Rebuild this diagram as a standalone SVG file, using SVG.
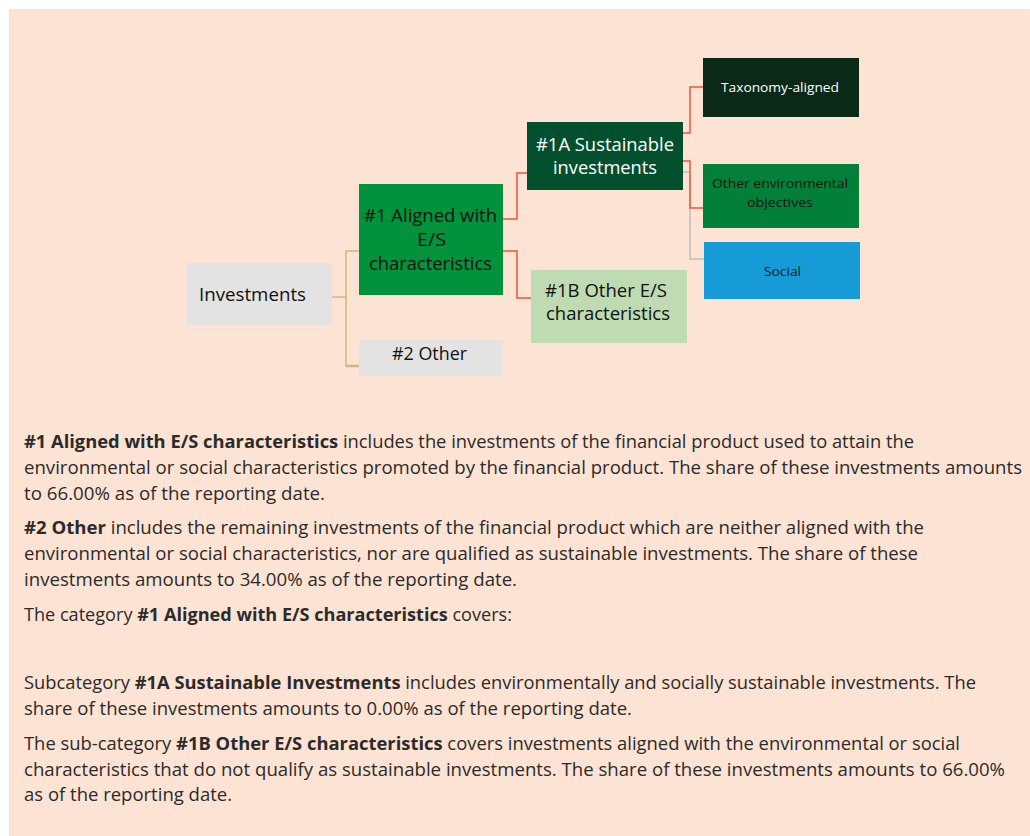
<svg xmlns="http://www.w3.org/2000/svg" width="1030" height="836" viewBox="0 0 1030 836">
<style>
.lbl{font-family:"Open Sans","Liberation Sans",sans-serif;font-size:18px;fill:#111}
.sm{font-family:"Open Sans","Liberation Sans",sans-serif;font-size:13px;fill:#111}
.w{fill:#ffffff}
.p{font-family:"Open Sans","Liberation Sans",sans-serif;font-size:18px;fill:#2b2b2b}
.b{font-weight:bold}
.ol{fill:none;stroke:#C9BC78;stroke-width:1.5}
.or{fill:none;stroke:#E9573C;stroke-width:1.5}
.gr{fill:none;stroke:#BDBDBD;stroke-width:1.5}
</style>
<rect x="0" y="0" width="1030" height="836" fill="#ffffff"/>
<rect x="9" y="9" width="1021" height="827" fill="#FDE3D3"/>

<g id="connectors">
  <polyline class="ol" points="332,297 346,297"/>
  <polyline class="ol" points="359,251 346,251 346,366 359,366"/>
  <polyline class="ol" points="346,366 359,366" style="stroke-width:2.5"/>
  <polyline class="or" points="503,219 517,219 517,173 527,173"/>
  <polyline class="or" points="503,251 517,251 517,298 531,298"/>
  <polyline class="or" points="683,133 690,133 690,87 703,87"/>
  <polyline class="gr" points="683,172 690,172 690,259 704,259"/>
  <polyline class="or" points="683,161 690,161 690,208 703,208"/>
</g>

<g id="investments">
  <rect x="187" y="263" width="145" height="62" fill="#E3E3E3"/>
  <text class="lbl" x="199" y="301" textLength="107" lengthAdjust="spacingAndGlyphs">Investments</text>
</g>
<g id="aligned">
  <rect x="359" y="184" width="144" height="111" fill="#00933B"/>
  <text class="lbl" x="364" y="222" textLength="133" lengthAdjust="spacingAndGlyphs">#1 Aligned with</text>
  <text class="lbl" x="417" y="246" textLength="29" lengthAdjust="spacingAndGlyphs">E/S</text>
  <text class="lbl" x="369" y="270" textLength="123" lengthAdjust="spacingAndGlyphs">characteristics</text>
</g>
<g id="other2">
  <rect x="359" y="340" width="144" height="36" fill="#E3E3E3"/>
  <text class="lbl" x="392" y="360" textLength="75" lengthAdjust="spacingAndGlyphs">#2 Other</text>
</g>
<g id="sustainable">
  <rect x="527" y="122" width="156" height="68" fill="#03502E"/>
  <text class="lbl w" x="536" y="151" textLength="138" lengthAdjust="spacingAndGlyphs">#1A Sustainable</text>
  <text class="lbl w" x="553" y="174" textLength="104" lengthAdjust="spacingAndGlyphs">investments</text>
</g>
<g id="other-es">
  <rect x="531" y="270" width="156" height="73" fill="#BEDBB1"/>
  <text class="lbl" x="545" y="297" textLength="122" lengthAdjust="spacingAndGlyphs">#1B Other E/S</text>
  <text class="lbl" x="546" y="320" textLength="124" lengthAdjust="spacingAndGlyphs">characteristics</text>
</g>
<g id="taxonomy">
  <rect x="703" y="58" width="156" height="59" fill="#0A2A17"/>
  <text class="sm w" x="721" y="92" textLength="118" lengthAdjust="spacingAndGlyphs">Taxonomy-aligned</text>
</g>
<g id="other-env">
  <rect x="703" y="164" width="156" height="64" fill="#02803A"/>
  <text class="sm" x="712" y="188" textLength="136" lengthAdjust="spacingAndGlyphs">Other environmental</text>
  <text class="sm" x="747" y="207" textLength="66" lengthAdjust="spacingAndGlyphs">objectives</text>
</g>
<g id="social">
  <rect x="704" y="242" width="156" height="57" fill="#169BD7"/>
  <text class="sm" x="764" y="276" textLength="37" lengthAdjust="spacingAndGlyphs">Social</text>
</g>

<g id="description">
  <text class="p" x="24" y="448" textLength="890" lengthAdjust="spacingAndGlyphs"><tspan class="b">#1 Aligned with E/S characteristics</tspan> includes the investments of the financial product used to attain the</text>
  <text class="p" x="24" y="474" textLength="998" lengthAdjust="spacingAndGlyphs">environmental or social characteristics promoted by the financial product. The share of these investments amounts</text>
  <text class="p" x="24" y="500" textLength="301" lengthAdjust="spacingAndGlyphs">to 66.00% as of the reporting date.</text>

  <text class="p" x="24" y="534" textLength="900" lengthAdjust="spacingAndGlyphs"><tspan class="b">#2 Other</tspan> includes the remaining investments of the financial product which are neither aligned with the</text>
  <text class="p" x="24" y="560" textLength="894" lengthAdjust="spacingAndGlyphs">environmental or social characteristics, nor are qualified as sustainable investments. The share of these</text>
  <text class="p" x="24" y="586" textLength="493" lengthAdjust="spacingAndGlyphs">investments amounts to 34.00% as of the reporting date.</text>

  <text class="p" x="24" y="621" textLength="488" lengthAdjust="spacingAndGlyphs">The category <tspan class="b">#1 Aligned with E/S characteristics</tspan> covers:</text>

  <text class="p" x="24" y="689" textLength="952" lengthAdjust="spacingAndGlyphs">Subcategory <tspan class="b">#1A Sustainable Investments</tspan> includes environmentally and socially sustainable investments. The</text>
  <text class="p" x="24" y="715" textLength="608" lengthAdjust="spacingAndGlyphs">share of these investments amounts to 0.00% as of the reporting date.</text>

  <text class="p" x="24" y="750" textLength="936" lengthAdjust="spacingAndGlyphs">The sub-category <tspan class="b">#1B Other E/S characteristics</tspan> covers investments aligned with the environmental or social</text>
  <text class="p" x="24" y="776" textLength="981" lengthAdjust="spacingAndGlyphs">characteristics that do not qualify as sustainable investments. The share of these investments amounts to 66.00%</text>
  <text class="p" x="24" y="801" textLength="208" lengthAdjust="spacingAndGlyphs">as of the reporting date.</text>
</g>
</svg>
